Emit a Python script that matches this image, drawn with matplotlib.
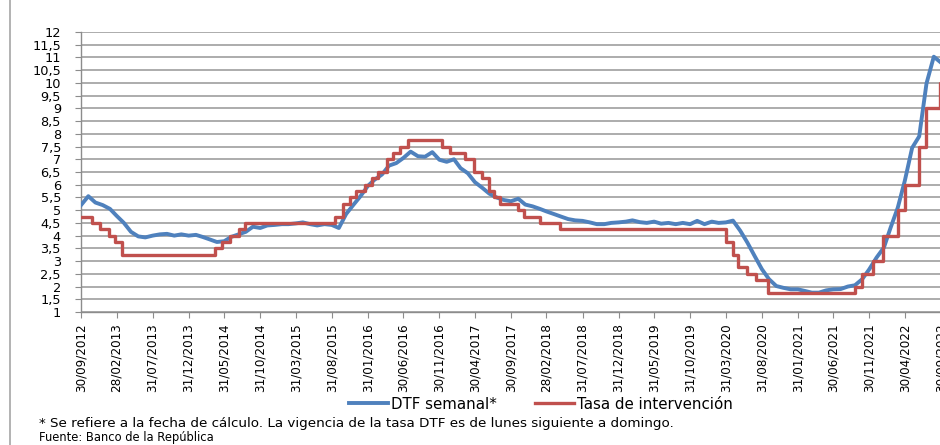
import numpy as np
import pandas as pd
import matplotlib
matplotlib.use("Agg")
import matplotlib.pyplot as plt
from matplotlib.lines import Line2D

# DTF semanal (valor a fin de cada mes)
dtf_valores = [
    5.20, 5.55, 5.30, 5.20, 5.05, 4.78, 4.50, 4.15, 3.97, 3.93,
    4.00, 4.05, 4.07, 4.00, 4.05, 4.00, 4.03, 3.95, 3.85, 3.75,
    3.78, 3.95, 4.05, 4.15, 4.35, 4.30, 4.40, 4.42, 4.45, 4.45,
    4.48, 4.52, 4.45, 4.40, 4.45, 4.42, 4.30, 4.85, 5.20, 5.55,
    5.95, 6.20, 6.40, 6.75, 6.85, 7.05, 7.30, 7.12, 7.10, 7.28,
    6.98, 6.90, 7.00, 6.65, 6.45, 6.10, 5.88, 5.65, 5.50, 5.40,
    5.35, 5.45, 5.22, 5.15, 5.05, 4.95, 4.85, 4.75, 4.65, 4.60,
    4.58, 4.52, 4.45, 4.45, 4.50, 4.52, 4.55, 4.60, 4.53, 4.50,
    4.55, 4.47, 4.50, 4.45, 4.50, 4.45, 4.58, 4.45, 4.55, 4.50,
    4.52, 4.59, 4.19, 3.73, 3.20, 2.68, 2.29, 2.02, 1.95, 1.89,
    1.89, 1.83, 1.76, 1.76, 1.85, 1.89, 1.90, 2.00, 2.05, 2.29,
    2.68, 3.14, 3.53, 4.30, 5.10, 6.16, 7.45, 7.90, 9.98, 11.03,
    10.80,
]
dtf_fechas = pd.date_range("2012-09-30", periods=len(dtf_valores), freq="ME")

# Tasa de intervención (fecha de cambio, nuevo nivel)
tasa_fechas = [
    "2012-09-30", "2012-11-15", "2012-12-20", "2013-01-25", "2013-02-22",
    "2013-03-22", "2014-04-22", "2014-05-20", "2014-06-25", "2014-08-01",
    "2014-08-28", "2015-09-15", "2015-10-18", "2015-11-18", "2015-12-10",
    "2016-01-20", "2016-02-18", "2016-03-15", "2016-04-20", "2016-05-18",
    "2016-06-15", "2016-07-20", "2016-12-12", "2017-01-15", "2017-03-18",
    "2017-04-25", "2017-05-30", "2017-06-28", "2017-07-18", "2017-08-15",
    "2017-10-30", "2017-11-25", "2018-02-02", "2018-04-28", "2020-03-30",
    "2020-04-30", "2020-05-20", "2020-06-28", "2020-08-05", "2020-09-25",
    "2021-09-30", "2021-10-29", "2021-12-17", "2022-01-28", "2022-03-31",
    "2022-04-29", "2022-06-30", "2022-07-29", "2022-09-28", "2022-10-10",
]
tasa_valores = [
    4.75, 4.50, 4.25, 4.00, 3.75,
    3.25, 3.50, 3.75, 4.00, 4.25,
    4.50, 4.75, 5.25, 5.50, 5.75,
    6.00, 6.25, 6.50, 7.00, 7.25,
    7.50, 7.75, 7.50, 7.25, 7.00,
    6.50, 6.25, 5.75, 5.50, 5.25,
    5.00, 4.75, 4.50, 4.25, 3.75,
    3.25, 2.75, 2.50, 2.25, 1.75,
    2.00, 2.50, 3.00, 4.00, 5.00,
    6.00, 7.50, 9.00, 10.00, 10.00,
]

etiquetas_x = [
    "30/09/2012", "28/02/2013", "31/07/2013", "31/12/2013", "31/05/2014",
    "31/10/2014", "31/03/2015", "31/08/2015", "31/01/2016", "30/06/2016",
    "30/11/2016", "30/04/2017", "30/09/2017", "28/02/2018", "31/07/2018",
    "31/12/2018", "31/05/2019", "31/10/2019", "31/03/2020", "31/08/2020",
    "31/01/2021", "30/06/2021", "30/11/2021", "30/04/2022", "30/09/2022",
]

azul = "#4F81BD"
rojo = "#C0504D"
gris = "#A6A6A6"

fig = plt.figure(figsize=(9.4, 4.45), dpi=100)
ax = fig.add_axes([0.0862, 0.2989, 0.930, 0.6292])

ax.plot(dtf_fechas, dtf_valores, color=azul, lw=2.8, solid_joinstyle="round",
        label="DTF semanal*", zorder=3)
ax.plot(pd.to_datetime(tasa_fechas), tasa_valores, color=rojo, lw=2.4,
        drawstyle="steps-post", label="Tasa de intervención", zorder=4)

ax.set_ylim(1, 12)
yt = np.arange(1, 12.01, 0.5)
ax.set_yticks(yt)
ax.set_yticklabels([f"{v:g}".replace(".", ",") for v in yt], fontsize=9.3)
ax.yaxis.grid(True, color=gris, lw=1.3)
ax.set_axisbelow(True)

ticks_x = pd.to_datetime(etiquetas_x, dayfirst=True)
ax.set_xticks(ticks_x)
ax.set_xticklabels(etiquetas_x, rotation=90, fontsize=8.5)
ax.set_xlim(pd.Timestamp("2012-09-30"), pd.Timestamp("2022-11-30"))

for s in ["top", "right"]:
    ax.spines[s].set_visible(False)
for s in ["left", "bottom"]:
    ax.spines[s].set_color("#8C8C8C")
    ax.spines[s].set_linewidth(1.0)
ax.tick_params(axis="y", length=4.5, color="#8C8C8C", pad=10)
ax.tick_params(axis="x", length=4, color="#8C8C8C", pad=4)

fig.legend(loc="center", bbox_to_anchor=(0.5755, 0.092), ncol=2, frameon=False,
           fontsize=10.8, handlelength=2.6, handletextpad=0.2, columnspacing=2.6)

nota = fig.text(0.042, 0.049, "* Se refiere a la fecha de cálculo. La vigencia de la tasa DTF es de lunes siguiente a domingo.",
                fontsize=9, va="center")
fuente = fig.text(0.042, 0.016, "Fuente: Banco de la República", fontsize=8.3, va="center")

# ajustar tamaños de texto al ancho medido en la referencia (px)
fig.canvas.draw()
r = fig.canvas.get_renderer()
for t, ancho in [(nota, 635), (fuente, 175)]:
    w = t.get_window_extent(r).width
    t.set_fontsize(t.get_fontsize() * ancho / w)
lab = ax.get_xticklabels()[0]
h = lab.get_window_extent(r).height
for l in ax.get_xticklabels():
    l.set_fontsize(l.get_fontsize() * 68.5 / h)

fig.add_artist(Line2D([0.0106, 0.0106], [0, 1], transform=fig.transFigure,
                      color=gris, lw=1.2))

fig.savefig("out.png", dpi=100)
